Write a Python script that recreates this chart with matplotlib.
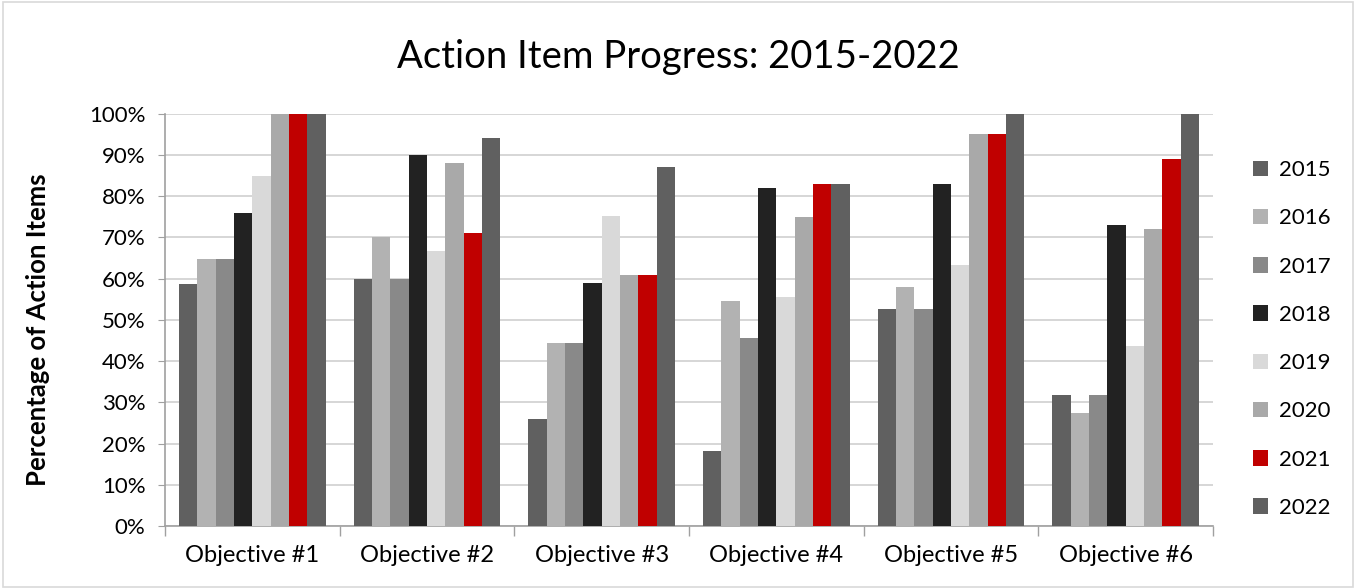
import numpy as np
import matplotlib.pyplot as plt
from matplotlib.patches import Patch
from matplotlib.ticker import MultipleLocator, FixedLocator, PercentFormatter

plt.rcParams['font.family'] = ['Lato', 'DejaVu Sans']

# Data (percent of action items complete)
objectives = ["Objective #1", "Objective #2", "Objective #3",
              "Objective #4", "Objective #5", "Objective #6"]
years = ["2015", "2016", "2017", "2018", "2019", "2020", "2021", "2022"]
v2015 = [58.8, 60.0, 25.9, 18.2, 52.6, 31.8]
v2016 = [64.7, 70.0, 44.4, 54.5, 57.9, 27.3]
v2017 = [64.7, 60.0, 44.4, 45.5, 52.6, 31.8]
v2018 = [76.0, 90.0, 59.0, 82.0, 83.0, 73.0]
v2019 = [85.0, 66.7, 75.3, 55.6, 63.4, 43.6]
v2020 = [100.0, 88.0, 61.0, 75.0, 95.0, 72.0]
v2021 = [100.0, 71.0, 61.0, 83.0, 95.0, 89.0]
v2022 = [100.0, 94.0, 87.0, 83.0, 100.0, 100.0]
series = [v2015, v2016, v2017, v2018, v2019, v2020, v2021, v2022]
colors = ["#606060", "#B2B2B2", "#898989", "#222222",
          "#D9D9D9", "#A9A9A9", "#C00000", "#606060"]

fig = plt.figure(figsize=(13.56, 5.88), dpi=100)
ax = fig.add_axes([0.1217, 0.1054, 0.7729, 0.7012])

# light border round the whole chart
fig.patches.append(plt.Rectangle((0.002, 0.002), 0.996, 0.994, transform=fig.transFigure,
                                 fill=False, edgecolor="#D9D9D9", linewidth=1.2))

x = np.arange(len(objectives))
n = len(series)
w = 0.84 / n
for i, (vals, c, yr) in enumerate(zip(series, colors, years)):
    ax.bar(x - 0.42 + w * (i + 0.5), vals, width=w, color=c, label=yr, zorder=3)

ax.set_xlim(-0.5, len(objectives) - 0.5)
ax.set_ylim(0, 100)
ax.yaxis.set_major_locator(MultipleLocator(10))
ax.yaxis.set_major_formatter(PercentFormatter(decimals=0))
ax.grid(axis="y", color="#D0D0D0", linewidth=1.2, zorder=0)

ax.set_xticks(x)
ax.set_xticklabels(objectives, fontsize=17)
ax.tick_params(axis="x", length=0, pad=14)
ax.xaxis.set_minor_locator(FixedLocator(np.arange(-0.5, len(objectives), 1.0)))
ax.tick_params(axis="x", which="minor", length=7, color="#A0A0A0", width=1)
ax.tick_params(axis="y", labelsize=16, length=5, color="#A0A0A0", pad=9)

for s in ["top", "right"]:
    ax.spines[s].set_visible(False)
for s in ["left", "bottom"]:
    ax.spines[s].set_color("#A0A0A0")
    ax.spines[s].set_linewidth(1.2)

ax.set_ylabel("Percentage of Action Items", fontsize=18.5, fontweight="bold")
ax.yaxis.set_label_coords(-0.11, 0.475)
fig.text(0.5, 0.903, "Action Item Progress: 2015-2022", ha="center", va="center", fontsize=27.5)

handles = [Patch(facecolor=c, label=yr) for c, yr in zip(colors, years)]
fig.legend(handles=handles, loc="center left", bbox_to_anchor=(0.909, 0.4235),
           frameon=False, fontsize=16, handlelength=0.7, handleheight=0.7,
           handletextpad=0.5, labelspacing=1.27)

fig.savefig("out.png", dpi=100)
